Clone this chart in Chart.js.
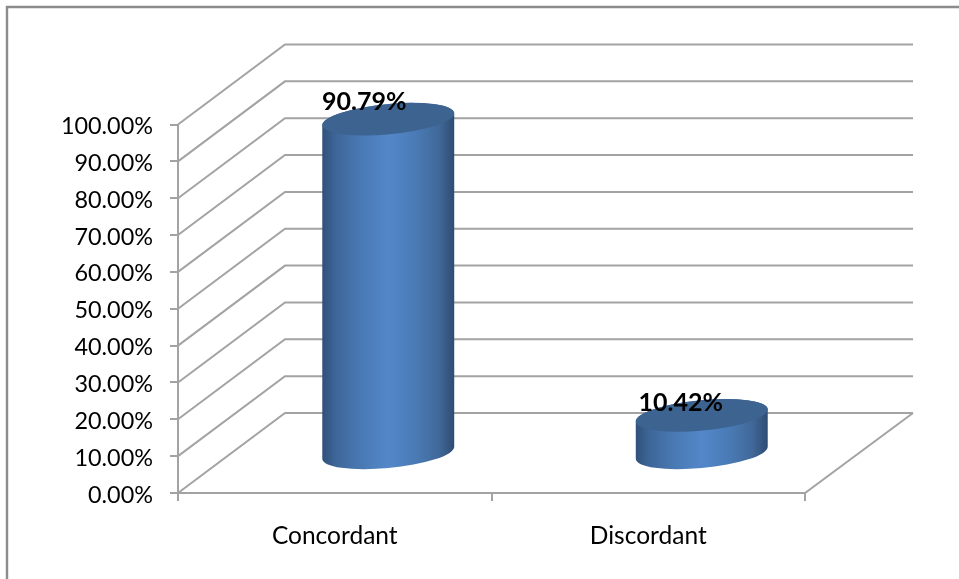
<!DOCTYPE html>
<html>
<head>
<meta charset="utf-8">
<style>
  html, body { margin: 0; padding: 0; background: #fff; }
  canvas { display: block; }
</style>
<script src="https://cdn.jsdelivr.net/npm/chart.js@4"></script>
</head>
<body>
<canvas id="myChart" width="959" height="579"></canvas>
<script>
const categories = ['Concordant', 'Discordant'];
const percentages = [90.79, 10.42];

// Axis range
const axisMin = 0;
const axisMax = 100;
const axisStep = 10;

// Projection of the box: how far the back wall sits from the front plane
const depthX = 107;
const depthY = 80;

// Hand placement of the value labels relative to the top of each cylinder
const labelShiftX = [-24, -21];
const labelShiftY = [-9, -4];

const lineColor = '#a3a3a3';
const frameColor = '#8c8c8c';
const fontName = 'Lato, Carlito, Calibri, sans-serif';

function fmt(v) {
    return v.toFixed(2) + '%';
}

// Outer border, only the left and top edges are visible
const framePlugin = {
    id: 'frame',
    beforeDraw(chart) {
        const c = chart.ctx;
        c.save();
        c.strokeStyle = frameColor;
        c.lineWidth = 2.4;
        c.beginPath();
        c.moveTo(7, chart.height);
        c.lineTo(7, 7);
        c.lineTo(chart.width, 7);
        c.stroke();
        c.restore();
    }
};

// Side wall, back wall and floor in the fake 3D box
const wallsPlugin = {
    id: 'walls',
    beforeDatasetsDraw(chart) {
        const c = chart.ctx;
        const yScale = chart.scales.y;
        const area = chart.chartArea;
        c.save();
        c.strokeStyle = lineColor;
        c.lineWidth = 2;
        yScale.ticks.forEach(t => {
            const y = yScale.getPixelForValue(t.value);
            c.beginPath();
            c.moveTo(area.left, y);
            c.lineTo(area.left + depthX, y - depthY);
            c.lineTo(area.right + depthX + 1, y - depthY);
            c.stroke();
        });
        // floor edges
        const y0 = yScale.getPixelForValue(axisMin);
        c.beginPath();
        c.moveTo(area.left, y0);
        c.lineTo(area.right, y0);
        c.lineTo(area.right + depthX + 1, y0 - depthY);
        c.stroke();
        c.restore();
    }
};

// Cylinders sit halfway into the box, built from the bar elements
const cylinderPlugin = {
    id: 'cylinders',
    afterDatasetsDraw(chart) {
        const c = chart.ctx;
        const meta = chart.getDatasetMeta(0);
        const tilt = -0.095;
        meta.data.forEach(bar => {
            const w = bar.width;
            const cx = bar.x + depthX / 2;
            const topY = bar.y - depthY * 0.49;
            const baseY = bar.base - depthY * 0.49;
            const a = w * 0.502;
            const b = w * 0.115;
            const t0 = Math.atan2(-b * Math.sin(tilt), a * Math.cos(tilt));

            const grad = c.createLinearGradient(cx - w / 2, 0, cx + w / 2, 0);
            grad.addColorStop(0, '#30507a');
            grad.addColorStop(0.1, '#3d6698');
            grad.addColorStop(0.3, '#4a7ab5');
            grad.addColorStop(0.5, '#5387c9');
            grad.addColorStop(0.7, '#4a7bb6');
            grad.addColorStop(0.88, '#41699a');
            grad.addColorStop(1, '#2e4c74');

            c.save();
            c.beginPath();
            c.ellipse(cx, baseY, a, b, tilt, t0, t0 + Math.PI);
            c.ellipse(cx, topY, a, b, tilt, t0 + Math.PI, t0 + 2 * Math.PI);
            c.closePath();
            c.fillStyle = grad;
            c.fill();

            c.beginPath();
            c.ellipse(cx, topY, a, b, tilt, 0, 2 * Math.PI);
            c.fillStyle = '#3d6390';
            c.fill();
            c.restore();
        });

        // value labels
        c.save();
        c.fillStyle = '#000';
        c.font = 'bold 25px ' + fontName;
        c.textAlign = 'center';
        c.textBaseline = 'alphabetic';
        meta.data.forEach((bar, i) => {
            const cx = bar.x + depthX / 2 + labelShiftX[i];
            const y = bar.y - depthY * 0.49 + labelShiftY[i];
            c.fillText(fmt(percentages[i]), cx, y);
        });
        c.restore();
    }
};

new Chart(document.getElementById('myChart'), {
    type: 'bar',
    data: {
        labels: categories,
        datasets: [{
            data: percentages,
            backgroundColor: 'rgba(0,0,0,0)',
            barPercentage: 0.421,
            categoryPercentage: 1
        }]
    },
    plugins: [framePlugin, wallsPlugin, cylinderPlugin],
    options: {
        responsive: false,
        animation: false,
        layout: { padding: { top: 124.5, right: 154 } },
        plugins: {
            legend: { display: false },
            tooltip: { enabled: false }
        },
        scales: {
            x: {
                afterFit(s) { s.height = 86; },
                grid: { drawOnChartArea: false, color: lineColor, lineWidth: 2, tickLength: 8 },
                border: { color: lineColor, width: 2 },
                ticks: { color: '#000', font: { family: fontName, size: 24.5 }, padding: 20, maxRotation: 0 }
            },
            y: {
                min: axisMin,
                max: axisMax,
                afterFit(s) { s.width = 178; },
                grid: { drawOnChartArea: false, color: lineColor, lineWidth: 2, tickLength: 8 },
                border: { color: lineColor, width: 2 },
                ticks: {
                    stepSize: axisStep,
                    color: '#000',
                    font: { family: fontName, size: 23.4 },
                    padding: 17,
                    labelOffset: 2,
                    callback: v => fmt(v)
                }
            }
        }
    }
});
</script>
</body>
</html>
